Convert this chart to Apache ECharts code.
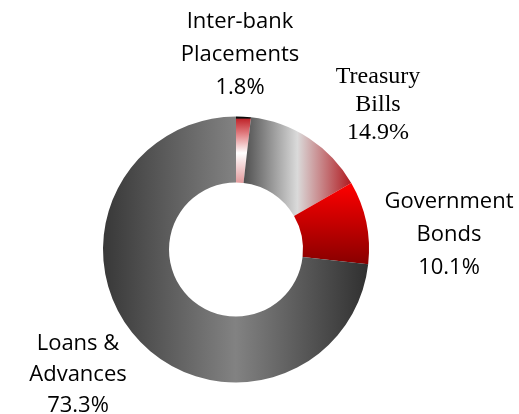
<!DOCTYPE html>
<html>
<head>
<meta charset="utf-8">
<script src="https://cdn.jsdelivr.net/npm/echarts@6/dist/echarts.min.js"></script>
<style>html,body{margin:0;padding:0;background:#fff;}#c{width:519px;height:414px;}</style>
</head>
<body>
<div id="c"></div>
<script>
var categories = ["Inter-bank\nPlacements", "Treasury\nBills", "Government\nBonds", "Loans &\nAdvances"];
var values = [1.8, 14.9, 10.1, 73.3];

var fills = [
  {type:'linear',x:0,y:0,x2:0,y2:1,colorStops:[
    {offset:0,color:'#000000'},{offset:0.025,color:'#111111'},{offset:0.04,color:'#c0262c'},
    {offset:0.25,color:'#e07a7e'},{offset:0.55,color:'#ffffff'},{offset:1,color:'#e29a9c'}]},
  {type:'linear',x:0,y:0,x2:1,y2:0,colorStops:[
    {offset:0,color:'#4e4e4e'},{offset:0.5,color:'#dadada'},{offset:1,color:'#b01a20'}]},
  {type:'linear',x:0,y:0,x2:0,y2:1,colorStops:[
    {offset:0,color:'#ff0000'},{offset:1,color:'#880000'}]},
  {type:'linear',x:0,y:0,x2:1,y2:0,colorStops:[
    {offset:0,color:'#383838'},{offset:0.5,color:'#828282'},{offset:1,color:'#303030'}]}
];
var labelPos = [[240,55],[378,105],[449,235],[78,375]];
var fontFam = ['Open Sans','Liberation Serif','Open Sans','Open Sans'];
var fontSz = [22,24,22,22];
var lineH = [33,28,33,31];

var chart = echarts.init(document.getElementById('c'));
chart.setOption({
  animation:false,
  series:[{
    type:'pie',
    center:[236,249.5],
    radius:[67,133],
    startAngle:90,
    clockwise:true,
    label:{show:true,position:'outside',formatter:'{b}\n{c}%',color:'#000',align:'center',overflow:'none'},
    labelLine:{show:false},
    labelLayout:function(p){
      var i=p.dataIndex;
      return {x:labelPos[i][0],y:labelPos[i][1],align:'center',verticalAlign:'middle'};
    },
    data:categories.map(function(n,i){
      return {name:n,value:values[i],itemStyle:{color:fills[i]},
        label:{fontFamily:fontFam[i],lineHeight:lineH[i],fontSize:fontSz[i],overflow:'none'}};
    })
  }]
});
</script>
</body>
</html>
